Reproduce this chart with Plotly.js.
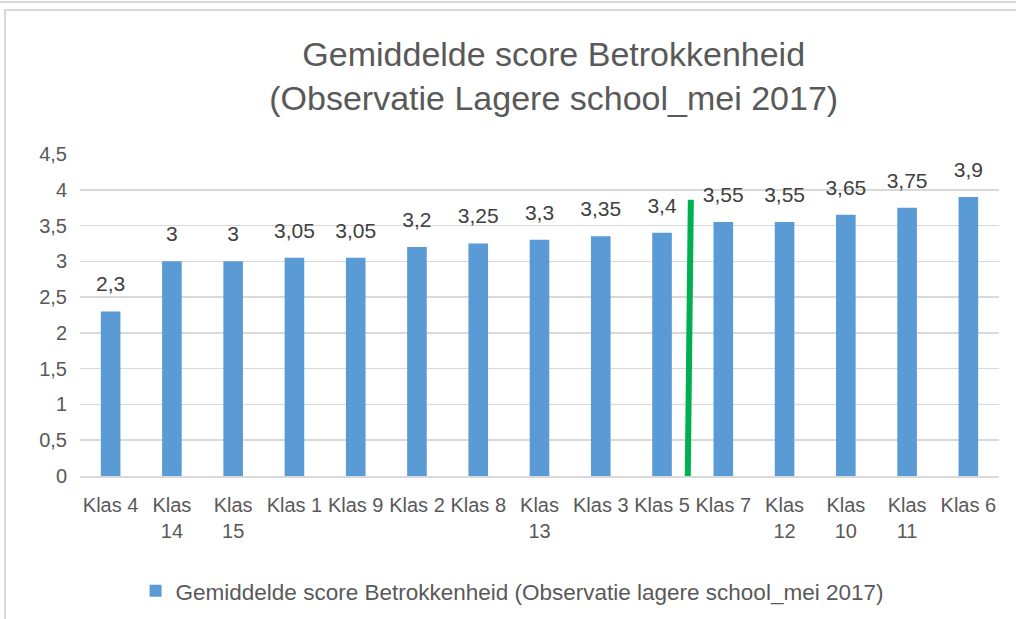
<!DOCTYPE html>
<html>
<head>
<meta charset="utf-8">
<script src="https://cdn.plot.ly/plotly-3.0.1.min.js"></script>
<style>
  html, body { margin: 0; padding: 0; background: #ffffff; }
  #wrap { position: relative; width: 1016px; height: 619px; overflow: hidden; background: #fff; }
  #topline { position: absolute; left: 0; top: 1px; width: 1016px; height: 2px; background: #d9d9d9; }
  #frame { position: absolute; left: 4px; top: 9px; width: 1030px; height: 640px; border-left: 2px solid #d9d9d9; border-top: 2px solid #d9d9d9; }
  #chart { position: absolute; left: 0; top: 0; width: 1016px; height: 619px; }
</style>
</head>
<body>
<div id="wrap">
  <div id="topline"></div>
  <div id="frame"></div>
  <div id="chart"></div>
</div>
<script>
// Data
const categories = ["Klas 4", "Klas 14", "Klas 15", "Klas 1", "Klas 9", "Klas 2", "Klas 8", "Klas 13", "Klas 3", "Klas 5", "Klas 7", "Klas 12", "Klas 10", "Klas 11", "Klas 6"];
const tickLabels = ["Klas 4", "Klas<br>14", "Klas<br>15", "Klas 1", "Klas 9", "Klas 2", "Klas 8", "Klas<br>13", "Klas 3", "Klas 5", "Klas 7", "Klas<br>12", "Klas<br>10", "Klas<br>11", "Klas 6"];
const scores = [2.3, 3, 3, 3.05, 3.05, 3.2, 3.25, 3.3, 3.35, 3.4, 3.55, 3.55, 3.65, 3.75, 3.9];
const yTickVals = [0, 0.5, 1, 1.5, 2, 2.5, 3, 3.5, 4, 4.5];
const yTickText = ["0", "0,5", "1", "1,5", "2", "2,5", "3", "3,5", "4", "4,5"];
const seriesName = "Gemiddelde score Betrokkenheid (Observatie lagere school_mei 2017)";
// hand-drawn green divider line (category index, value)
const dividerX = [9.42, 9.47];
const dividerY = [0, 3.86];

const labelText = scores.map(v => String(v).replace('.', ','));
const FONT = '"Liberation Sans", Arial, sans-serif';

const bars = {
  type: 'bar',
  x: categories,
  y: scores,
  name: seriesName,
  marker: { color: '#5b9bd5' },
  hoverinfo: 'x+y'
};

const labels = {
  type: 'scatter',
  mode: 'markers+text',
  x: categories,
  y: scores,
  text: labelText,
  textposition: 'top center',
  textfont: { family: FONT, size: 21, color: '#404040' },
  marker: { size: 22, opacity: 0, color: '#ffffff' },
  showlegend: false,
  cliponaxis: false,
  hoverinfo: 'skip'
};

const layout = {
  width: 1016,
  height: 619,
  paper_bgcolor: 'rgba(0,0,0,0)',
  plot_bgcolor: 'rgba(0,0,0,0)',
  margin: { l: 80, r: 17, t: 154, b: 143 },
  bargap: 0.68,
  showlegend: true,
  title: {
    text: 'Gemiddelde score Betrokkenheid<br>(Observatie Lagere school_mei 2017)',
    font: { family: FONT, size: 34, color: '#595959' },
    x: 0.545, xanchor: 'center', xref: 'container',
    y: 0.893, yanchor: 'top', yref: 'container'
  },
  xaxis: {
    type: 'category',
    range: [-0.5, categories.length - 0.5],
    autorange: false,
    tickvals: categories,
    ticktext: tickLabels,
    tickfont: { family: FONT, size: 20, color: '#595959' },
    ticks: '',
    showline: true,
    linecolor: '#d9d9d9',
    linewidth: 1.5,
    showgrid: false,
    tickangle: 0,
    automargin: false,
    ticklabelstandoff: 10
  },
  yaxis: {
    range: [0, 4.5],
    autorange: false,
    tickvals: yTickVals,
    ticktext: yTickText,
    tickfont: { family: FONT, size: 20, color: '#595959' },
    ticks: '',
    showgrid: true,
    gridcolor: '#d9d9d9',
    gridwidth: 1.5,
    zeroline: false,
    showline: false,
    automargin: false,
    ticklabelstandoff: 12
  },
  legend: {
    orientation: 'h',
    x: 0.504, xanchor: 'center', xref: 'container',
    y: 0.045, yanchor: 'middle', yref: 'container',
    font: { family: FONT, size: 22.5, color: '#595959' },
    itemwidth: 30
  },
  shapes: [{
    type: 'line',
    xref: 'x', yref: 'y',
    x0: dividerX[0], y0: dividerY[0],
    x1: dividerX[1], y1: dividerY[1],
    line: { color: '#00b050', width: 6 }
  }]
};

Plotly.newPlot('chart', [bars, labels], layout, { displayModeBar: false, staticPlot: true });
</script>
</body>
</html>
